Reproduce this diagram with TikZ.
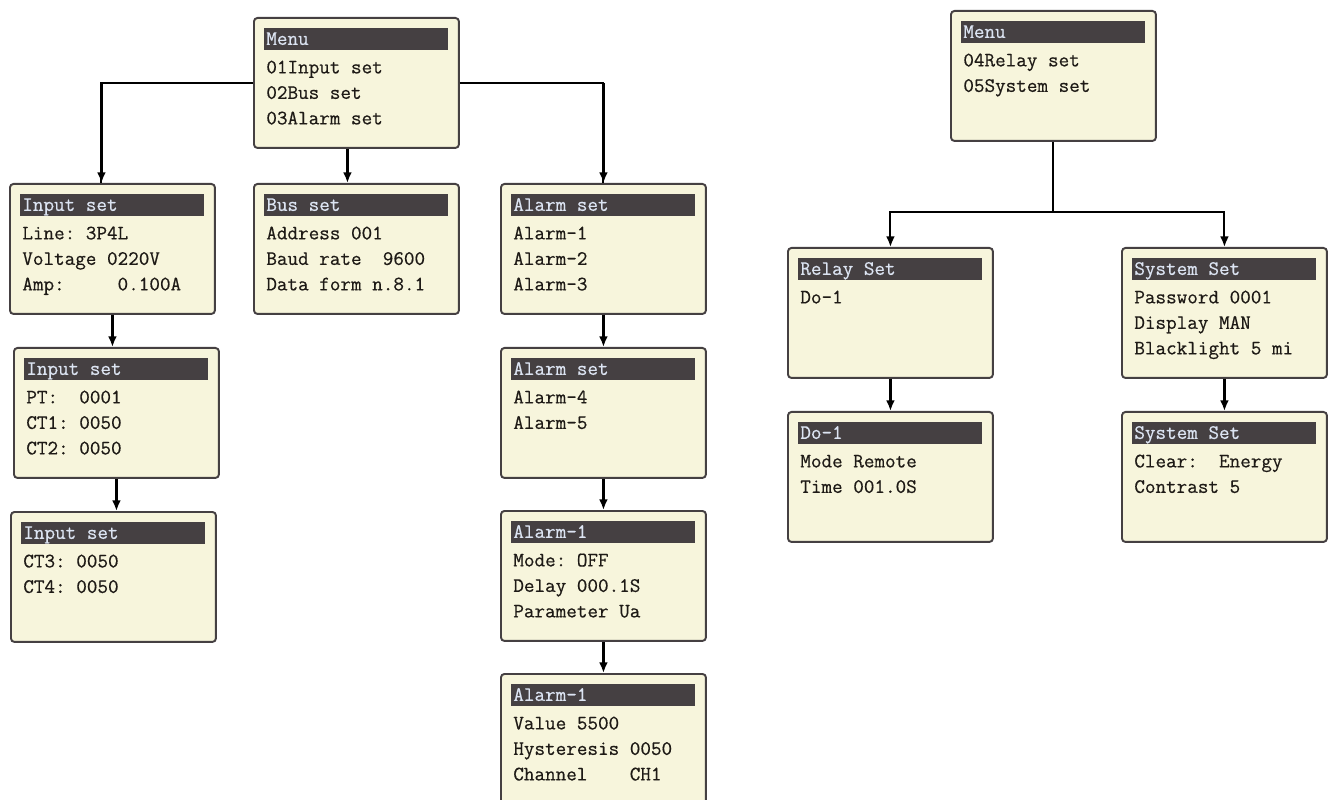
\documentclass[tikz,border=0pt]{standalone}
\usepackage{fontspec}
\usepackage{xcolor}
\usetikzlibrary{calc,arrows.meta}
\newfontfamily\lcdfont[FakeBold=0.5]{Latin Modern Mono}
\definecolor{lcdCream}{HTML}{F7F5DC}
\definecolor{lcdGrey}{HTML}{454042}
\definecolor{lcdHead}{HTML}{DCE4F2}
\definecolor{lcdInk}{HTML}{1E1A16}

% one screen of the menu: name, north west corner, title, lines
\newcommand{\lcdbox}[4]{%
    \node[panel] (#1) at (#2) {};
    \node[bar] (#1-h) at ($(#1.north west)+(11,11)$) {};
    \node[item,text=lcdHead] (#1-t) at ($(#1-h.west)+(2,1)$) {#3};
    \foreach \txt [count=\i] in {#4}
        \node[item] (#1-\i) at ($(#1-h.west)+(2,4+25.5*\i)$) {\txt};
}

\begin{document}
\begin{tikzpicture}[x=0.02cm,y=-0.02cm]
    \tikzset{
        panel/.style={draw=lcdGrey,fill=lcdCream,line width=1.1pt,rounded corners=2pt,
            anchor=north west,minimum width=4.1cm,minimum height=2.6cm,inner sep=0pt},
        bar/.style={fill=lcdGrey,anchor=north west,inner sep=0pt,
            minimum width=3.68cm,minimum height=0.44cm},
        item/.style={anchor=west,inner sep=0pt,text=lcdInk,text height=1.6ex,text depth=0.4ex,
            font=\lcdfont\fontsize{11.7}{13}\selectfont},
        wire/.style={draw=black,line width=1.1pt},
        drop/.style={draw=black,line width=1.8pt,-{Latex[length=6pt,width=5pt]}},
        thin drop/.style={draw=black,line width=1.1pt,-{Latex[length=6pt,width=5pt]}}
    }
    \useasboundingbox (0,0) rectangle (1332,800);
    \clip (0,0) rectangle (1332,800);
    \fill[white] (0,0) rectangle (1332,800);

    % left tree
    \lcdbox{menuA}{253,17}{Menu}{01Input set,02Bus set,03Alarm set}
    \lcdbox{inA}{9,183}{Input set}{Line:~3P4L,Voltage~0220V,Amp:~~~~~0.100A}
    \lcdbox{busA}{253,183}{Bus set}{Address~001,Baud rate~~9600,Data form~n.8.1}
    \lcdbox{alA}{500,183}{Alarm set}{Alarm-1,Alarm-2,Alarm-3}
    \lcdbox{inB}{13,347}{Input set}{PT:~~0001,CT1:~0050,CT2:~0050}
    \lcdbox{inC}{10,511}{Input set}{CT3:~0050,CT4:~0050}
    \lcdbox{alB}{500,347}{Alarm set}{Alarm-4,Alarm-5}
    \lcdbox{alC}{500,510}{Alarm-1}{Mode:~OFF,Delay~000.1S,Parameter~Ua}
    \lcdbox{alD}{500,673}{Alarm-1}{Value~5500,Hysteresis~0050,Channel~~~~CH1}

    % right tree
    \lcdbox{menuB}{950,10}{Menu}{04Relay set,05System set}
    \lcdbox{relay}{787,247}{Relay Set}{Do-1}
    \lcdbox{sysA}{1121,247}{System Set}{Password~0001,Display~MAN,Blacklight~5~mi}
    \lcdbox{doA}{787,411}{Do-1}{Mode~Remote,Time~001.0S}
    \lcdbox{sysB}{1121,411}{System Set}{Clear:~~Energy,Contrast~5}

    % connectors, left
    \coordinate (inA-top) at ($(inA.north)+(-11,0)$);
    \coordinate (busA-top) at ($(busA.north)+(-9,0)$);
    \draw[wire] (menuA.west) -| (inA-top);
    \draw[wire] (menuA.east) -| (alA.north);
    \draw[drop] (inA-top |- menuA.west) -- (inA-top);
    \draw[drop] (alA.north |- menuA.east) -- (alA.north);
    \draw[drop] (busA-top |- menuA.south) -- (busA-top);
    \draw[drop] (inA.south) -- (inA.south |- inB.north);
    \draw[drop] (inB.south) -- (inB.south |- inC.north);
    \draw[drop] (alA.south) -- (alB.north);
    \draw[drop] (alB.south) -- (alC.north);
    \draw[drop] (alC.south) -- (alD.north);

    % connectors, right
    \coordinate (split) at (menuB.south |- 0,212);
    \draw[wire] (menuB.south) -- (split);
    \draw[thin drop] (split) -| (relay.north);
    \draw[thin drop] (split) -| (sysA.north);
    \draw[drop] (relay.south) -- (doA.north);
    \draw[drop] (sysA.south) -- (sysB.north);
\end{tikzpicture}
\end{document}
